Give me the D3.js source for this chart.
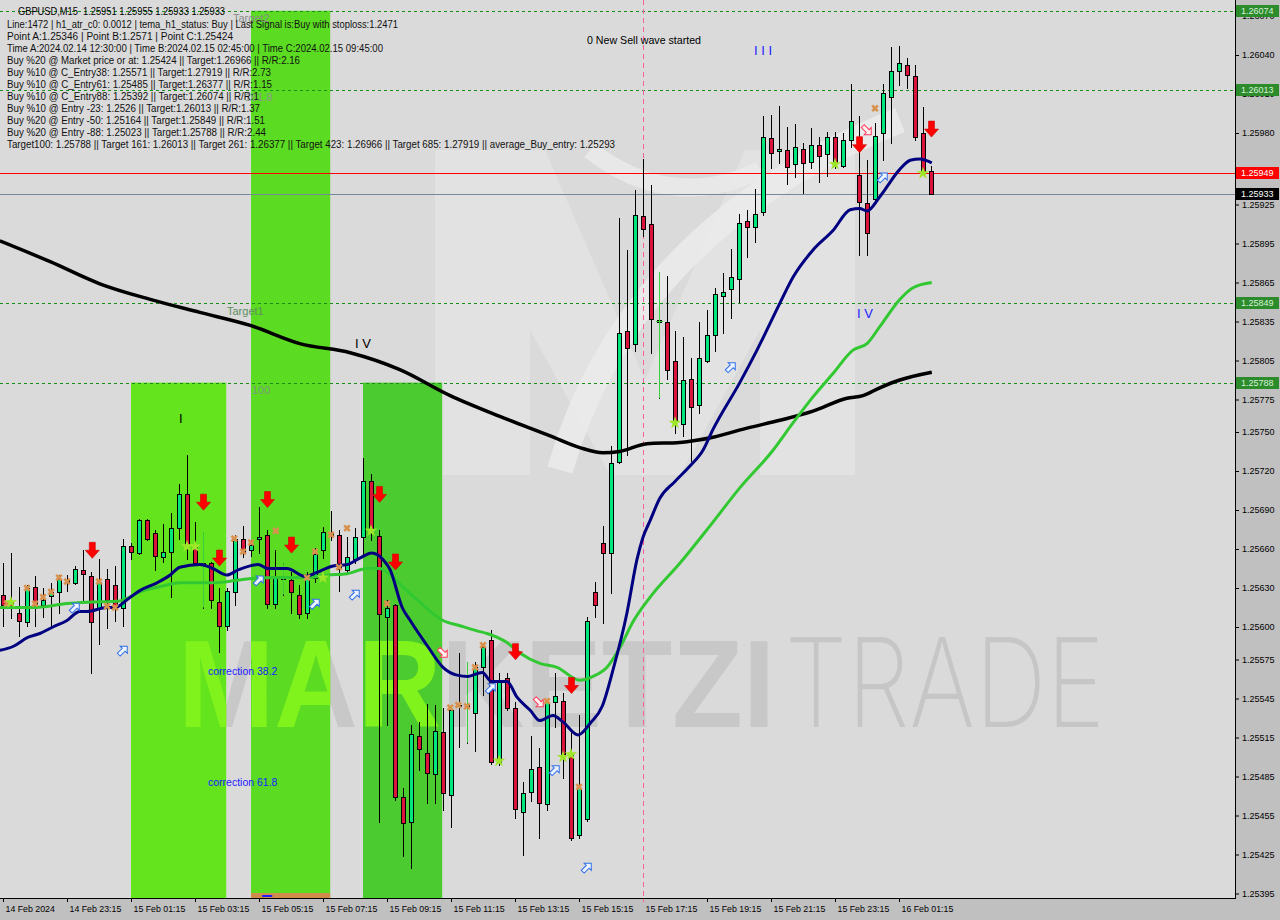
<!DOCTYPE html>
<html><head><meta charset="utf-8">
<script src="https://cdn.jsdelivr.net/npm/d3@7"></script>
<style>body{margin:0;background:#c0c0c0;}svg{display:block;font-family:"Liberation Sans",Arial,sans-serif;}</style>
</head><body><svg id="c" width="1280" height="920"></svg>
<script>
// ---------------- DATA ----------------
const openP = [1.25625,1.25620,1.25611,1.25604,1.25631,1.25617,1.25624,1.25627,1.25635,1.25634,1.25644,1.25639,1.25615,1.25637,1.25632,1.25615,1.25662,1.25657,1.25682,1.25672,1.25654,1.25658,1.25676,1.25702,1.25662,1.25649,1.25649,1.25619,1.25601,1.25627,1.25668,1.25659,1.25668,1.25671,1.25618,1.25638,1.25636,1.25625,1.25611,1.25638,1.25659,1.25671,1.25671,1.25644,1.25652,1.25669,1.25712,1.25670,1.25608,1.25617,1.25469,1.25450,1.25516,1.25503,1.25487,1.25519,1.25471,1.25539,1.25540,1.25534,1.25569,1.25590,1.25496,1.25561,1.25538,1.25458,1.25473,1.25492,1.25464,1.25542,1.25543,1.25502,1.25440,1.25452,1.25627,1.25665,1.25657,1.25727,1.25828,1.25818,1.25916,1.25910,1.25835,1.25835,1.25805,1.25756,1.25791,1.25771,1.25805,1.25825,1.25855,1.25860,1.25868,1.25912,1.25908,1.25919,1.25976,1.25966,1.25967,1.25956,1.25968,1.25958,1.25971,1.25964,1.25977,1.25955,1.25975,1.25948,1.25926,1.25929,1.25980,1.26008,1.26028,1.26032,1.26024,1.25980,1.25951];
const highP = [1.25649,1.25657,1.25631,1.25632,1.25639,1.25630,1.25634,1.25640,1.25640,1.25647,1.25659,1.25642,1.25652,1.25645,1.25647,1.25668,1.25665,1.25683,1.25683,1.25675,1.25679,1.25688,1.25710,1.25732,1.25681,1.25673,1.25650,1.25630,1.25630,1.25671,1.25678,1.25667,1.25692,1.25675,1.25659,1.25649,1.25642,1.25632,1.25642,1.25661,1.25677,1.25689,1.25675,1.25669,1.25676,1.25730,1.25718,1.25675,1.25621,1.25618,1.25476,1.25525,1.25527,1.25541,1.25540,1.25538,1.25538,1.25580,1.25573,1.25573,1.25588,1.25598,1.25565,1.25565,1.25542,1.25481,1.25516,1.25507,1.25545,1.25565,1.25549,1.25521,1.25532,1.25608,1.25635,1.25678,1.25739,1.25915,1.25890,1.25936,1.25960,1.25940,1.25873,1.25870,1.25828,1.25823,1.25807,1.25835,1.25844,1.25861,1.25872,1.25891,1.25918,1.25921,1.25937,1.25993,1.25994,1.26001,1.25985,1.25987,1.25972,1.25984,1.25977,1.25981,1.25981,1.25980,1.26018,1.25993,1.25959,1.25988,1.26018,1.26046,1.26047,1.26038,1.26032,1.26000,1.25955];
const lowP = [1.25601,1.25607,1.25593,1.25601,1.25601,1.25608,1.25601,1.25611,1.25628,1.25633,1.25621,1.25565,1.25587,1.25599,1.25605,1.25601,1.25652,1.25656,1.25667,1.25644,1.25650,1.25623,1.25668,1.25652,1.25648,1.25615,1.25615,1.25581,1.25598,1.25617,1.25654,1.25655,1.25657,1.25615,1.25615,1.25625,1.25611,1.25607,1.25607,1.25635,1.25653,1.25667,1.25628,1.25642,1.25649,1.25655,1.25667,1.25450,1.25525,1.25467,1.25424,1.25415,1.25490,1.25465,1.25465,1.25459,1.25446,1.25508,1.25511,1.25505,1.25548,1.25495,1.25494,1.25536,1.25453,1.25425,1.25466,1.25438,1.25459,1.25523,1.25484,1.25436,1.25438,1.25451,1.25608,1.25603,1.25626,1.25726,1.25732,1.25812,1.25901,1.25811,1.25776,1.25791,1.25749,1.25747,1.25728,1.25765,1.25804,1.25812,1.25826,1.25838,1.25850,1.25885,1.25896,1.25917,1.25953,1.25957,1.25941,1.25946,1.25934,1.25953,1.25942,1.25947,1.25953,1.25954,1.25969,1.25886,1.25886,1.25928,1.25959,1.25972,1.26017,1.26015,1.25975,1.25949,1.25933];
const closeP = [1.25617,1.25615,1.25605,1.25630,1.25616,1.25621,1.25627,1.25637,1.25636,1.25645,1.25641,1.25604,1.25635,1.25621,1.25615,1.25662,1.25658,1.25682,1.25668,1.25655,1.25658,1.25676,1.25702,1.25662,1.25649,1.25648,1.25621,1.25601,1.25628,1.25668,1.25658,1.25663,1.25669,1.25618,1.25638,1.25637,1.25627,1.25610,1.25638,1.25656,1.25673,1.25672,1.25645,1.25654,1.25669,1.25712,1.25675,1.25610,1.25615,1.25469,1.25449,1.25518,1.25506,1.25488,1.25520,1.25472,1.25536,1.25540,1.25539,1.25569,1.25585,1.25496,1.25559,1.25538,1.25460,1.25472,1.25491,1.25465,1.25542,1.25547,1.25502,1.25438,1.25476,1.25605,1.25617,1.25657,1.25726,1.25826,1.25815,1.25917,1.25906,1.25837,1.25836,1.25798,1.25758,1.25790,1.25769,1.25807,1.25825,1.25856,1.25858,1.25869,1.25911,1.25908,1.25918,1.25977,1.25965,1.25968,1.25954,1.25969,1.25957,1.25971,1.25962,1.25977,1.25957,1.25975,1.25989,1.25927,1.25903,1.25978,1.26011,1.26028,1.26034,1.26025,1.25977,1.25950,1.25933];

// moving averages: [bar index, price]
const maNavy = [[-0.4,1.25582],[1.25,1.25585],[3.1,1.25592],[4.6,1.25595],[6.25,1.25600],[8,1.25605],[9.6,1.25612],[10.5,1.25612],[13,1.25615],[14,1.25615],[15.5,1.25621],[17.1,1.25628],[19.25,1.25634],[20.9,1.25640],[22.1,1.25646],[24.6,1.25648],[26.25,1.25645],[28,1.25640],[29.4,1.25644],[31.9,1.25648],[33.1,1.25645],[35.5,1.25645],[37.75,1.25639],[39.25,1.25642],[41.25,1.25647],[43,1.25648],[44.6,1.25653],[46.1,1.25657],[47.5,1.25652],[48.4,1.25644],[49.9,1.25615],[50.9,1.25605],[53.1,1.25585],[55,1.25569],[56.75,1.25563],[58.1,1.25562],[59.9,1.25565],[61.1,1.25558],[63,1.25558],[64.25,1.25546],[65.9,1.25536],[67.1,1.25528],[68.75,1.25532],[70,1.25527],[71.9,1.25517],[73.4,1.25526],[74.9,1.25539],[76.25,1.25567],[78,1.25611],[79.25,1.25652],[80,1.25669],[80.9,1.25682],[82.1,1.25699],[84,1.25712],[85.9,1.25724],[87.5,1.25736],[88.75,1.25752],[92.1,1.25788],[94.25,1.25813],[97.1,1.25849],[98.75,1.25869],[101.25,1.25890],[103.75,1.25905],[105.9,1.25921],[107.1,1.25922],[108,1.25920],[109.6,1.25931],[112.1,1.25952],[113.4,1.25959],[114.6,1.25960],[116.1,1.25957]];
const maGreen = [[-0.4,1.25615],[3.75,1.25615],[8,1.25618],[10.5,1.25619],[14.6,1.25620],[15.5,1.25622],[17.1,1.25627],[19.6,1.25631],[22.1,1.25634],[26.25,1.25634],[30.5,1.25637],[34.25,1.25638],[38,1.25638],[40.5,1.25640],[43,1.25641],[45.5,1.25645],[47.1,1.25645],[49.25,1.25635],[51.75,1.25621],[55,1.25605],[57.1,1.25601],[59.25,1.25597],[60.5,1.25595],[63,1.25588],[64.6,1.25580],[67.1,1.25572],[69.25,1.25569],[72.1,1.25559],[73.75,1.25562],[75.5,1.25569],[77.1,1.25584],[78.75,1.25604],[80.9,1.25623],[84.6,1.25649],[88.4,1.25678],[92.1,1.25707],[96.25,1.25736],[98.75,1.25757],[101.25,1.25777],[103.75,1.25795],[106.25,1.25813],[108,1.25818],[109.6,1.25831],[112.1,1.25852],[113.75,1.25861],[116.1,1.25865]];
const maBlack = [[-0.4,1.25897],[5.9,1.25881],[12.1,1.25864],[18.4,1.25852],[24.6,1.25842],[30.9,1.25832],[37.1,1.25818],[43.4,1.25811],[49.6,1.25798],[55.9,1.25778],[62.1,1.25762],[68.4,1.25747],[72.1,1.25738],[75,1.25734],[77.1,1.25735],[80.5,1.25741],[84.6,1.25742],[88.75,1.25746],[93,1.25753],[97.1,1.25759],[101.25,1.25766],[105.5,1.25776],[107.5,1.25778],[109.6,1.25784],[112.1,1.25790],[116.1,1.25796]];

// signal marks: [bar index, price]
const sellArrows = [[11.1,1.25659],[25,1.25696],[33,1.25698],[27,1.25653],[36,1.25663],[47,1.25702],[49,1.25650],[64,1.25581],[71,1.25555],[107,1.25971],[116,1.25983]];
const blueArrows = [[9,1.25615],[15,1.25582],[32,1.25636],[39,1.25618],[44,1.25625],[61,1.25553],[69,1.25490],[73,1.25415],[91,1.25800],[110,1.25946]];
const pinkArrows = [[55,1.25580],[67,1.25542],[108,1.25982]];
const xMarks = [[0.5,1.25618],[3,1.25630],[4,1.25618],[5,1.25623],[6,1.25627],[7,1.25638],[8,1.25635],[12,1.25635],[13,1.25616],[14,1.25615],[28.9,1.25668],[30,1.25658],[31,1.25665],[34.1,1.25674],[38,1.25638],[39,1.25658],[41,1.25671],[43,1.25676],[42,1.25646],[48,1.25618],[55.9,1.25538],[56.9,1.25540],[58,1.25539],[59,1.25569],[60,1.25586],[68,1.25543],[72,1.25477],[109,1.25999]];
const stars = [[1,1.25619],[23,1.25662],[24,1.25662],[40,1.25638],[46,1.25674],[62,1.25497],[70,1.25500],[71,1.25502],[84,1.25757],[104,1.25956],[115,1.25949]];
const signalBars = [[25,1.25673,1.25615],[35,1.25649,1.25625],[58,1.25573,1.25511],[82,1.25873,1.25776]];

// levels and zones
const targetLevels = [1.26074,1.26013,1.25849,1.25788];
const askPrice = 1.25949, bidPrice = 1.25933;
const fibZones = [[16,27.9,1.25788,"#64e41c"],[31,40.9,1.26074,"#5bdc22"],[45,54.9,1.25788,"#4ccb30"]];
const yTicks = [1.26070,1.26040,1.26010,1.25980,1.25925,1.25895,1.25865,1.25835,1.25805,1.25775,1.25750,1.25720,1.25690,1.25660,1.25630,1.25600,1.25575,1.25545,1.25515,1.25485,1.25455,1.25425,1.25395];
const xTickIdx = [0,8,16,24,32,40,48,56,64,72,80,88,96,104,112];
const xTickLabels = ["14 Feb 2024","14 Feb 23:15","15 Feb 01:15","15 Feb 03:15","15 Feb 05:15","15 Feb 07:15","15 Feb 09:15","15 Feb 11:15","15 Feb 13:15","15 Feb 15:15","15 Feb 17:15","15 Feb 19:15","15 Feb 21:15","15 Feb 23:15","16 Feb 01:15"];
const header = "GBPUSD,M15  1.25951 1.25955 1.25933 1.25933";
const infoLines = [
 "Line:1472 | h1_atr_c0: 0.0012 | tema_h1_status: Buy | Last Signal is:Buy with stoploss:1.2471",
 "Point A:1.25346 | Point B:1.2571 | Point C:1.25424",
 "Time A:2024.02.14 12:30:00 | Time B:2024.02.15 02:45:00 | Time C:2024.02.15 09:45:00",
 "Buy %20 @ Market price or at: 1.25424 || Target:1.26966 || R/R:2.16",
 "Buy %10 @ C_Entry38: 1.25571 || Target:1.27919 || R/R:2.73",
 "Buy %10 @ C_Entry61: 1.25485 || Target:1.26377 || R/R:1.15",
 "Buy %10 @ C_Entry88: 1.25392 || Target:1.26074 || R/R:1",
 "Buy %10 @ Entry -23: 1.2526 || Target:1.26013 || R/R:1.37",
 "Buy %20 @ Entry -50: 1.25164 || Target:1.25849 || R/R:1.51",
 "Buy %20 @ Entry -88: 1.25023 || Target:1.25788 || R/R:2.44",
 "Target100: 1.25788 || Target 161: 1.26013 || Target 261: 1.26377 || Target 423: 1.26966 || Target 685: 1.27919 || average_Buy_entry: 1.25293"];
const infoWidths = [391,226,376,293,264,265,252,253,258,259,608];

// ---------------- CHART ----------------
const PR = 1235, PB = 898;
const svg = d3.select("#c");
const x = d3.scaleLinear().domain([0,116]).range([3,931]);
const y = d3.scaleLinear().domain([1.2539154,1.2608231]).range([PB,0]);

svg.append("rect").attr("width",1280).attr("height",920).attr("fill","#c0c0c0");
const defs = svg.append("defs");
defs.append("clipPath").attr("id","plotClip").append("rect").attr("width",PR).attr("height",PB);
const zc = defs.append("clipPath").attr("id","zoneClip");
fibZones.forEach(z=>zc.append("rect").attr("x",x(z[0])).attr("y",y(z[2])).attr("width",x(z[1])-x(z[0])).attr("height",PB-y(z[2])));

const plot = svg.append("g").attr("clip-path","url(#plotClip)");
plot.append("rect").attr("width",PR).attr("height",PB).attr("fill","#dadada");

// logo (decorative)
const logo = plot.append("g");
logo.append("path").attr("d","M435,150 L545,150 L645,380 L745,150 L855,150 L855,475 L760,475 L760,330 L680,475 L610,475 L530,330 L530,475 L435,475 Z").attr("fill","#e2e2e2");
logo.append("path").attr("d","M560,470 C600,330 700,200 900,120").attr("fill","none").attr("stroke","#ececec").attr("stroke-width",26).attr("opacity",0.8);
logo.append("path").attr("d","M590,150 C640,190 700,200 760,170").attr("fill","none").attr("stroke","#ebebeb").attr("stroke-width",18).attr("opacity",0.8);

// watermark text
function watermark(g, fill){
  g.append("text").attr("x",178).attr("y",727).attr("font-size",124).attr("font-weight","bold")
   .attr("textLength",597).attr("lengthAdjust","spacingAndGlyphs").attr("fill",fill).text("MARKETZI");
}
watermark(plot.append("g"), "#c8c8c8");
plot.append("text").attr("x",785).attr("y",727).attr("font-size",124).attr("font-family","Inter, 'Liberation Sans', sans-serif").attr("font-weight",200)
   .attr("textLength",320).attr("lengthAdjust","spacingAndGlyphs").attr("fill","#c6c6c6").text("TRADE");

// fib zones
plot.selectAll("rect.zone").data(fibZones).join("rect").attr("class","zone")
  .attr("x",d=>x(d[0])).attr("y",d=>y(d[2])).attr("width",d=>x(d[1])-x(d[0])).attr("height",d=>PB-y(d[2])).attr("fill",d=>d[3]);
watermark(plot.append("g").attr("clip-path","url(#zoneClip)"), "#80f21c");
plot.append("rect").attr("x",x(31)).attr("y",893).attr("width",x(40.9)-x(31)).attr("height",5).attr("fill","#d08c4c");
plot.append("rect").attr("x",x(32.4)).attr("y",895).attr("width",10).attr("height",2).attr("fill","#1a1aff");

// zone labels
const lab = (t,xx,yy,c,fs)=>plot.append("text").attr("x",xx).attr("y",yy).attr("dy","0.35em").attr("font-size",fs||11).attr("fill",c).text(t);
lab("Target2",233,18,"#8a8a8a");
lab("161.8",245,97,"#8a9a8a");
lab("Target1",227,311,"#5e8e5e");
lab("100",252,390,"#7a9a7a");
lab("correction 38.2",208,671,"#1a1aff",10.5);
lab("correction 61.8",208,782,"#1a1aff",10.5);

// levels
plot.selectAll("line.lvl").data(targetLevels).join("line").attr("class","lvl")
  .attr("x1",0).attr("x2",PR).attr("y1",d=>Math.round(y(d))+0.5).attr("y2",d=>Math.round(y(d))+0.5)
  .attr("stroke","#168f16").attr("stroke-dasharray","3,3");
plot.append("line").attr("x1",0).attr("x2",PR).attr("y1",Math.round(y(askPrice))+0.5).attr("y2",Math.round(y(askPrice))+0.5).attr("stroke","#ff0000");
plot.append("line").attr("x1",0).attr("x2",PR).attr("y1",Math.round(y(bidPrice))+0.5).attr("y2",Math.round(y(bidPrice))+0.5).attr("stroke","#778899");
plot.append("line").attr("x1",x(80)+0.5).attr("x2",x(80)+0.5).attr("y1",0).attr("y2",PB).attr("stroke","#ff5fa0").attr("stroke-dasharray","5,4");

// candles
const idx = d3.range(openP.length);
const cg = plot.append("g").attr("shape-rendering","crispEdges");
cg.selectAll("line").data(idx).join("line")
  .attr("x1",i=>x(i)+0.5).attr("x2",i=>x(i)+0.5).attr("y1",i=>Math.round(y(highP[i]))).attr("y2",i=>Math.round(y(lowP[i]))+1).attr("stroke","#000");
cg.selectAll("rect").data(idx).join("rect")
  .attr("x",i=>x(i)-1.5).attr("width",4)
  .attr("y",i=>Math.round(y(Math.max(openP[i],closeP[i])))+0.5)
  .attr("height",i=>Math.max(1,Math.round(y(Math.min(openP[i],closeP[i])))-Math.round(y(Math.max(openP[i],closeP[i])))))
  .attr("fill",i=>closeP[i]>=openP[i]?"#00e87a":"#dc143c").attr("stroke","#000");

// signal bars
plot.selectAll("line.sig").data(signalBars).join("line").attr("class","sig")
  .attr("x1",d=>x(d[0])+0.5).attr("x2",d=>x(d[0])+0.5).attr("y1",d=>y(d[1])).attr("y2",d=>y(d[2])).attr("stroke","#3ccf3c");
plot.append("line").attr("x1",x(82)-3).attr("x2",x(82)+4).attr("y1",y(1.25835)).attr("y2",y(1.25835)).attr("stroke","#3ccf3c");

// moving averages
const line = d3.line().x(d=>x(d[0])).y(d=>y(d[1])).curve(d3.curveMonotoneX);
plot.append("path").datum(maBlack).attr("d",line).attr("fill","none").attr("stroke","#000").attr("stroke-width",3.5);
plot.append("path").datum(maGreen).attr("d",line).attr("fill","none").attr("stroke","#32c832").attr("stroke-width",3);
plot.append("path").datum(maNavy).attr("d",line).attr("fill","none").attr("stroke","#000080").attr("stroke-width",3);

// marks
plot.selectAll("path.sell").data(sellArrows).join("path").attr("class","sell")
  .attr("transform",d=>`translate(${x(d[0])+0.5},${y(d[1])})`)
  .attr("d","M-3,-8 L3,-8 L3,0 L7,0 L0,8 L-7,0 L-3,0 Z").attr("fill","#ff0000").attr("stroke","#d00000").attr("stroke-width",0.6);
const hollow = "M-2,6 L2,6 L2,-1 L5,-1 L0,-6 L-5,-1 L-2,-1 Z";
plot.selectAll("path.ba").data(blueArrows).join("path").attr("class","ba")
  .attr("transform",d=>`translate(${x(d[0])},${y(d[1])}) rotate(45)`)
  .attr("d",hollow).attr("fill","#eef4ff").attr("stroke","#2f6fe8").attr("stroke-width",1);
plot.selectAll("path.pa").data(pinkArrows).join("path").attr("class","pa")
  .attr("transform",d=>`translate(${x(d[0])},${y(d[1])}) rotate(135)`)
  .attr("d",hollow).attr("fill","#fff2f2").attr("stroke","#ff3a5a").attr("stroke-width",1);
plot.selectAll("path.xm").data(xMarks).join("path").attr("class","xm")
  .attr("transform",d=>`translate(${x(d[0])},${y(d[1])}) rotate(45)`)
  .attr("d",d3.symbol(d3.symbolCross,34)).attr("fill","#d8924e");
plot.selectAll("path.st").data(stars).join("path").attr("class","st")
  .attr("transform",d=>`translate(${x(d[0])},${y(d[1])})`)
  .attr("d",d3.symbol(d3.symbolStar,50)).attr("fill","#9ee62a");

// wave labels
const wl = (t,xx,yy,c)=>plot.append("text").attr("x",xx).attr("y",yy).attr("dy","0.35em").attr("font-size",13).attr("fill",c).attr("xml:space","preserve").text(t);
wl("I",179,418,"#000");
wl("I V",355,343,"#000");
wl("I I I",754,50,"#1a1aff");
wl("I V",857,313,"#1a1aff");
plot.append("text").attr("x",587).attr("y",40).attr("dy","0.35em").attr("font-size",11).attr("textLength",114).attr("lengthAdjust","spacingAndGlyphs").text("0 New Sell wave started");

// info text
plot.append("text").attr("x",18).attr("y",11).attr("dy","0.35em").attr("font-size",10).attr("textLength",207).attr("lengthAdjust","spacingAndGlyphs").attr("xml:space","preserve").attr("fill","#000").text(header);
plot.selectAll("text.info").data(infoLines).join("text").attr("class","info")
  .attr("x",7).attr("y",(d,i)=>24+12*i).attr("dy","0.35em").attr("font-size",10)
  .attr("textLength",(d,i)=>infoWidths[i]).attr("lengthAdjust","spacingAndGlyphs").attr("fill","#111").text(d=>d);

// axes
const ya = svg.append("g").attr("transform",`translate(${PR},0)`)
  .call(d3.axisRight(y).tickValues(yTicks).tickFormat(d3.format(".5f")).tickSize(4).tickPadding(3));
ya.select(".domain").remove();
ya.selectAll("text").attr("font-size",9).attr("fill","#000").attr("font-family","Liberation Sans, Arial");
ya.selectAll("line").attr("stroke","#000");
const xa = svg.append("g").attr("transform",`translate(0,${PB})`)
  .call(d3.axisBottom(x).tickValues(xTickIdx).tickFormat((d,i)=>xTickLabels[i]).tickSize(4).tickPadding(4));
xa.select(".domain").remove();
xa.selectAll("text").attr("text-anchor","start").attr("dx",2).attr("font-size",8.8).attr("fill","#000").attr("font-family","Liberation Sans, Arial");
xa.selectAll("line").attr("stroke","#000");
xa.selectAll(".tick").filter(d=>d===80).select("line").attr("stroke","#ff5fa0");
svg.append("line").attr("x1",PR+0.5).attr("x2",PR+0.5).attr("y1",0).attr("y2",PB+1).attr("stroke","#000");
svg.append("line").attr("x1",0).attr("x2",PR+1).attr("y1",PB+0.5).attr("y2",PB+0.5).attr("stroke","#000");

// price tags on axis
const tags = [[targetLevels[0],"#2c8c2c","#d8f0d8"],[targetLevels[1],"#2c8c2c","#d8f0d8"],[targetLevels[2],"#2c8c2c","#d8f0d8"],[targetLevels[3],"#2c8c2c","#d8f0d8"],[askPrice,"#ff0000","#ffffff"],[bidPrice,"#000000","#ffffff"]];
const tg = svg.append("g");
tags.forEach(t=>{
  const yy = Math.round(y(t[0]));
  tg.append("rect").attr("x",PR+1).attr("y",yy-6).attr("width",43).attr("height",12).attr("fill",t[1]);
  tg.append("text").attr("x",PR+6).attr("y",yy).attr("dy","0.35em").attr("font-size",9).attr("fill",t[2]).text(d3.format(".5f")(t[0]));
});
</script></body></html>
